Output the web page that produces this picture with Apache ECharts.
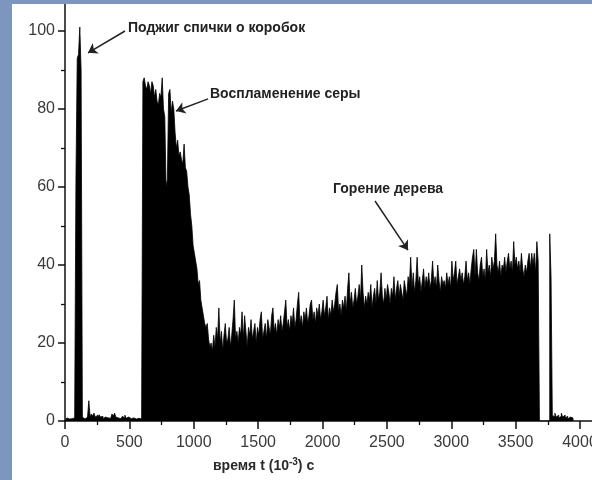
<!DOCTYPE html>
<html>
<head>
<meta charset="utf-8">
<script src="https://cdn.jsdelivr.net/npm/echarts@6/dist/echarts.min.js"></script>
<style>
  html, body { margin: 0; padding: 0; width: 592px; height: 480px; overflow: hidden; background: #7d96be; }
  #chart { position: absolute; left: 12px; top: 4px; width: 580px; height: 476px; background: #ffffff; }
</style>
</head>
<body>
<div id="chart"></div>
<script>
// Sampling step of the recorded signal, in units of 10^-3 s
const STEP = 10;

// Before ignition: match struck at ~0.1 s, then background noise
const preStart = 0;
const preIgnition = [
  0, 0.5, 0.8, 0.5, 1, 0.6, 1, 0.8, 1.2, 62,
  93, 94, 101, 90, 1, 0.5, 0.8, 1, 1.5, 5.2,
  1, 1.8, 1.2, 2, 1, 1.5, 0.8, 1.6, 1, 1.2,
  0.6, 1, 1.4, 0.8, 1.2, 0.7, 1, 1.8, 1.2, 2,
  1, 0.8, 1.3, 0.6, 1, 1.2, 0.8, 1.5, 0.7, 1,
  1.3, 0.6, 1, 0.8, 1.2, 0.5, 1, 0.7, 1.1, 0.5,
  0.8
];

// Sulfur ignition burst and its decay
const burstStart = 610;
const sulfurBurst = [
  87, 88, 86, 85, 87, 86, 84, 87, 86, 83,
  85, 82, 81, 84, 83, 88, 80, 78, 60, 62,
  84, 85, 79, 82, 80, 74, 70, 72, 68, 69,
  67, 66, 71, 65, 64, 60, 58, 53, 50, 45,
  43, 41, 39, 35, 36, 31, 29, 27, 25, 24,
  25, 21, 19, 20
];

// Wood burning phase
const woodStart = 1150;
const woodBurning = [
  18, 22, 19, 24, 21, 29, 20, 23, 18, 22, 25, 20, 21, 24, 19, 22, 26, 31, 21, 23,
  20, 24, 22, 28, 21, 27, 23, 19, 24, 22, 26, 21, 23, 25, 20, 24, 22, 26, 28, 21,
  23, 25, 21, 26, 24, 22, 27, 29, 23, 25, 22, 26, 24, 27, 23, 25, 28, 31, 24, 26,
  23, 27, 25, 29, 24, 26, 30, 33, 25, 27, 24, 28, 26, 29, 25, 27, 30, 31, 26, 28,
  25, 29, 27, 30, 26, 28, 31, 27, 29, 32, 26, 29, 27, 31, 28, 30, 33, 35, 28, 30,
  27, 31, 29, 32, 28, 34, 38, 30, 33, 29, 31, 34, 30, 32, 35, 31, 40, 33, 29, 32,
  30, 33, 31, 35, 29, 32, 34, 30, 36, 31, 33, 38, 32, 30, 34, 31, 35, 33, 30, 34,
  32, 37, 31, 34, 36, 32, 35, 33, 31, 36, 34, 32, 37, 35, 42, 34, 38, 33, 36, 42,
  35, 37, 33, 36, 39, 34, 37, 35, 38, 34, 36, 41, 35, 37, 34, 40, 36, 33, 37, 35,
  36, 34, 38, 35, 37, 34, 41, 36, 38, 41, 35, 37, 39, 36, 38, 35, 37, 41, 36, 38,
  35, 39, 42, 44, 37, 44, 38, 36, 40, 42, 37, 39, 36, 44, 38, 40, 37, 42, 39, 41,
  48, 40, 38, 41, 37, 40, 39, 42, 38, 41, 43, 39, 41, 38, 46, 40, 42, 39, 41, 38,
  43, 39, 37, 40, 38, 41, 43, 39, 43, 40, 43, 38, 46, 41
];

// After extinction: a last flare and residual noise
const tailStart = 3690;
const tail = [
  0, 0, 0, 0, 0, 0, 0, 0, 48, 37,
  1.5, 1, 2, 1, 1.5, 0.8, 1.2, 2, 1, 1.5,
  0.8, 1.2, 0.5, 1, 0.6, 0.8, 0.3
];

// Axis tick labels
const xTicks = [0, 500, 1000, 1500, 2000, 2500, 3000, 3500, 4000];
const yTicks = [0, 20, 40, 60, 80, 100];

// Annotations (data coordinates)
const annotationText = ['Поджиг спички о коробок', 'Воспламенение серы', 'Горение дерева'];
const annotationAt = [[489, 100.8], [1126, 83.8], [2082, 59.5]];
const arrowTail = [[466, 100], [1111, 82.6], [2408, 56.4]];
const arrowHead = [[179, 94.4], [862, 79.5], [2664, 43.8]];

function toPairs(start, values) {
  return values.map((v, i) => [start + i * STEP, v]);
}
const signal = []
  .concat(toPairs(preStart, preIgnition))
  .concat(toPairs(burstStart, sulfurBurst))
  .concat(toPairs(woodStart, woodBurning))
  .concat(toPairs(tailStart, tail));

const labelFont = { fontFamily: 'Liberation Sans', fontSize: 16, color: '#3a3a3a' };
const axisBlack = { color: '#111', width: 1.5 };

const chart = echarts.init(document.getElementById('chart'), null, { renderer: 'canvas' });
chart.setOption({
  animation: false,
  backgroundColor: '#ffffff',
  grid: { left: 53, top: -51, width: 579.375, height: 468, containLabel: false, outerBoundsMode: 'none' },
  xAxis: {
    type: 'value', min: 0, max: 4500, interval: 500,
    axisLine: { show: true, onZero: false, lineStyle: axisBlack },
    axisTick: { show: true, length: 8, lineStyle: axisBlack },
    minorTick: { show: true, splitNumber: 2, length: 4, lineStyle: { color: '#111', width: 1.3 } },
    splitLine: { show: false },
    axisLabel: Object.assign({ margin: 14, formatter: v => (xTicks.indexOf(v) >= 0 ? String(v) : '') }, labelFont)
  },
  yAxis: {
    type: 'value', min: 0, max: 120, interval: 20,
    axisLine: { show: true, onZero: false, lineStyle: axisBlack },
    axisTick: { show: true, length: 7, lineStyle: axisBlack },
    minorTick: { show: true, splitNumber: 2, length: 4, lineStyle: { color: '#111', width: 1.3 } },
    splitLine: { show: false },
    axisLabel: Object.assign({ margin: 10, formatter: v => (yTicks.indexOf(v) >= 0 ? String(v) : '') }, labelFont)
  },
  graphic: [{
    type: 'text', left: 201, top: 453,
    style: {
      text: 'время t (10{s|-3}) с',
      font: 'bold 14px "Liberation Sans"',
      fill: '#2a2a2a',
      rich: { s: { font: 'bold 10px "Liberation Sans"', fill: '#2a2a2a', verticalAlign: 'top', padding: [0, 0, 9, 0] } }
    }
  }],
  series: [{
    type: 'line',
    data: signal,
    step: 'middle',
    showSymbol: false,
    symbol: 'none',
    lineStyle: { color: '#000', width: 0.8 },
    areaStyle: { color: '#000', opacity: 1 },
    silent: true,
    markLine: {
      silent: true,
      symbol: ['none', 'arrow'],
      symbolSize: 9,
      label: { show: false },
      lineStyle: { color: '#222', width: 1.5, type: 'solid' },
      data: arrowTail.map((p, i) => [{ coord: p }, { coord: arrowHead[i] }])
    },
    markPoint: {
      silent: true,
      symbol: 'circle',
      symbolSize: 0,
      label: {
        show: true, position: 'right', distance: 0,
        fontFamily: 'Liberation Sans', fontWeight: 'bold', fontSize: 14, color: '#222',
        formatter: p => p.name
      },
      data: annotationText.map((t, i) => ({ name: t, coord: annotationAt[i] }))
    }
  }]
});
</script>
</body>
</html>
